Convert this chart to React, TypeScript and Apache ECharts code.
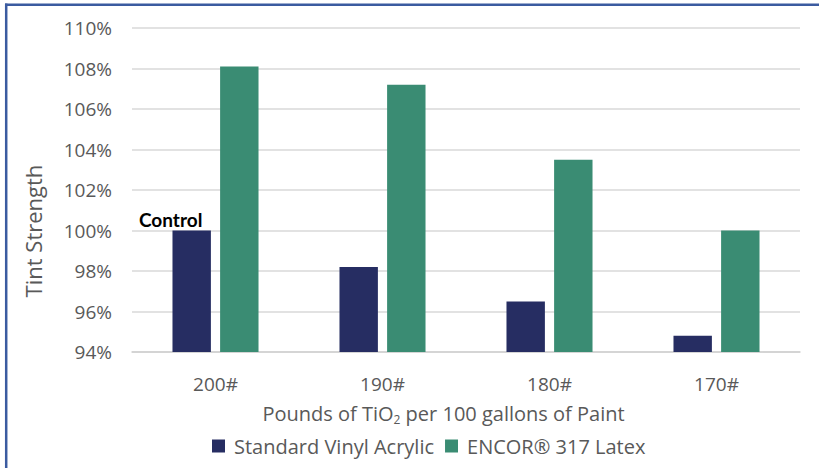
import React, { useEffect, useRef } from "react";
import * as echarts from "echarts";

const categories = ["200#", "190#", "180#", "170#"];
const standardVinylAcrylic = [100, 98.2, 96.5, 94.8];
const encor317Latex = [108.1, 107.2, 103.5, 100];
const seriesNames = ["Standard Vinyl Acrylic", "ENCOR® 317 Latex"];
const controlLabel = "Control";
const yMin = 94;
const yMax = 110;
const yInterval = 2;

const FONT = "'Open Sans', 'Noto Sans', sans-serif";
const GREY = "#595959";

export default function App() {
  const ref = useRef<HTMLDivElement>(null);

  useEffect(() => {
    document.body.style.margin = "0";
    if (!ref.current) return;
    const chart = echarts.init(ref.current, null, { renderer: "svg" });
    chart.setOption({
      animation: false,
      backgroundColor: "#ffffff",
      textStyle: { fontFamily: FONT },
      grid: { left: 132, right: 19, top: 28, bottom: 116, containLabel: false },
      legend: {
        data: seriesNames,
        left: 207,
        top: 431,
        icon: "rect",
        itemWidth: 13,
        itemHeight: 13,
        itemGap: 11,
        textStyle: { color: GREY, fontSize: 20, fontFamily: FONT, padding: [0, 0, 0, 4] },
      },
      xAxis: {
        type: "category",
        data: categories,
        axisLine: { show: true, lineStyle: { color: "#d0d0d0", width: 1.5 } },
        axisTick: { show: false },
        axisLabel: { color: GREY, fontSize: 19, fontFamily: FONT, margin: 22 },
        name: "{t|Pounds of TiO}{s|2}{t| per 100 gallons of Paint}",
        nameLocation: "middle",
        nameGap: 49,
        nameTextStyle: {
          padding: [0, 45, 0, 0],
          rich: {
            t: { fontSize: 20, color: GREY, fontFamily: FONT, lineHeight: 24 },
            s: { fontSize: 12, color: GREY, fontFamily: FONT, lineHeight: 8, verticalAlign: "bottom" },
          },
        },
      },
      yAxis: {
        type: "value",
        min: yMin,
        max: yMax,
        interval: yInterval,
        axisLine: { show: false },
        axisTick: { show: false },
        axisLabel: {
          color: GREY,
          fontSize: 19,
          fontFamily: FONT,
          margin: 20,
          formatter: (v: number) => `${v}%`,
        },
        splitLine: { lineStyle: { color: "#d9d9d9", width: 1.5 } },
      },
      series: [
        {
          name: seriesNames[0],
          type: "bar",
          barWidth: "23%",
          barGap: "24%",
          itemStyle: { color: "#262d62" },
          data: standardVinylAcrylic.map((v, i) =>
            i === 0
              ? {
                  value: v,
                  label: {
                    show: true,
                    position: "top",
                    distance: 2,
                    offset: [-21, 0],
                    formatter: controlLabel,
                    color: "#000000",
                    fontSize: 19,
                    fontWeight: "bold",
                    fontFamily: "Lato, sans-serif",
                  },
                }
              : v
          ),
        },
        {
          name: seriesNames[1],
          type: "bar",
          barWidth: "23%",
          barGap: "24%",
          itemStyle: { color: "#3a8c73" },
          data: encor317Latex,
        },
      ],
      graphic: [
        {
          type: "text",
          x: 33,
          y: 231,
          rotation: Math.PI / 2,
          style: {
            text: "Tint Strength",
            fill: GREY,
            font: `22px ${FONT}`,
            align: "center",
            verticalAlign: "middle",
          },
        },
        {
          type: "line",
          shape: { x1: 6.2, y1: 3.5, x2: 6.2, y2: 468 },
          style: { stroke: "#3b5ba0", lineWidth: 2.5 },
        },
        {
          type: "line",
          shape: { x1: 5, y1: 4.7, x2: 819, y2: 4.7 },
          style: { stroke: "#3b5ba0", lineWidth: 2.5 },
        },
      ],
    });
    return () => chart.dispose();
  }, []);

  return <div ref={ref} style={{ width: 819, height: 468 }} />;
}
